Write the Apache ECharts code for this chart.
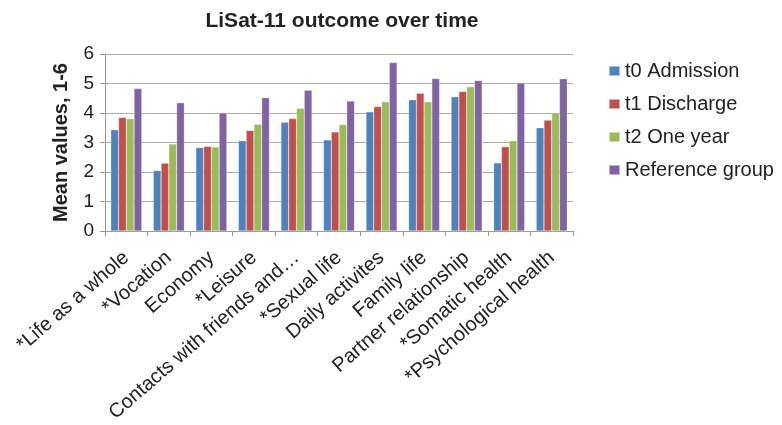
<!DOCTYPE html>
<html><head><meta charset="utf-8">
<script src="https://cdn.jsdelivr.net/npm/echarts@6/dist/echarts.min.js"></script>
<style>html,body{margin:0;padding:0;background:#fff}#c{width:782px;height:425px}</style>
</head><body><div id="c"></div>
<script>
const categories = ['*Life as a whole','*Vocation','Economy','*Leisure','Contacts with friends and…','*Sexual life','Daily activites','Family life','Partner relationship','*Somatic health','*Psychological health'];
const t0Admission = [3.43, 2.05, 2.83, 3.06, 3.69, 3.09, 4.04, 4.45, 4.55, 2.31, 3.50];
const t1Discharge = [3.85, 2.30, 2.87, 3.41, 3.81, 3.36, 4.22, 4.67, 4.73, 2.86, 3.76];
const t2OneYear = [3.81, 2.95, 2.85, 3.62, 4.16, 3.61, 4.38, 4.38, 4.89, 3.06, 4.01];
const referenceGroup = [4.83, 4.35, 4.00, 4.52, 4.77, 4.41, 5.71, 5.17, 5.10, 5.02, 5.16];
const seriesNames = ['t0 Admission','t1 Discharge','t2 One year','Reference group'];
const yTicks = [0,1,2,3,4,5,6];

const colors = ['#4F81BD','#C0504D','#9BBB59','#8064A2'];
const font = 'Liberation Sans, Arial, sans-serif';
const data = [t0Admission, t1Discharge, t2OneYear, referenceGroup];
const chart = echarts.init(document.getElementById('c'));
chart.setOption({
  animation: false,
  color: colors,
  title: {text: 'LiSat-11 outcome over time', left: 337, textAlign: 'center', top: 6,
    textStyle: {fontFamily: font, fontSize: 21, fontWeight: 'bold', color: '#222'}},
  legend: {orient: 'vertical', left: 603, top: 56, itemWidth: 11, itemHeight: 10, itemGap: 13,
    icon: 'rect', textStyle: {fontFamily: font, fontSize: 20, lineHeight: 20, color: '#222'},
    data: seriesNames},
  grid: {left: 105, right: 209, top: 54, bottom: 193, containLabel: false},
  xAxis: {type: 'category', data: categories,
    axisLine: {lineStyle: {color: '#999', width: 1}},
    axisTick: {show: true, length: 5, lineStyle: {color: '#999'}},
    axisLabel: {rotate: 41, interval: 0, margin: 24, fontFamily: font, fontSize: 20, color: '#222'}},
  yAxis: {type: 'value', min: yTicks[0], max: yTicks[yTicks.length-1], interval: 1,
    name: 'Mean values, 1-6', nameLocation: 'middle', nameGap: 34,
    nameTextStyle: {fontFamily: font, fontSize: 20, fontWeight: 'bold', color: '#222'},
    axisLine: {show: true, lineStyle: {color: '#999'}},
    axisTick: {show: true, length: 5, lineStyle: {color: '#999'}},
    splitLine: {lineStyle: {color: '#aaa', width: 1}},
    axisLabel: {margin: 11, fontFamily: font, fontSize: 19, color: '#222'}},
  series: seriesNames.map((n, i) => ({name: n, type: 'bar', data: data[i],
    barGap: '0%', barCategoryGap: '27%',
    itemStyle: {color: colors[i], borderColor: 'rgba(255,255,255,0.5)', borderWidth: 0.5}}))
});
</script></body></html>
